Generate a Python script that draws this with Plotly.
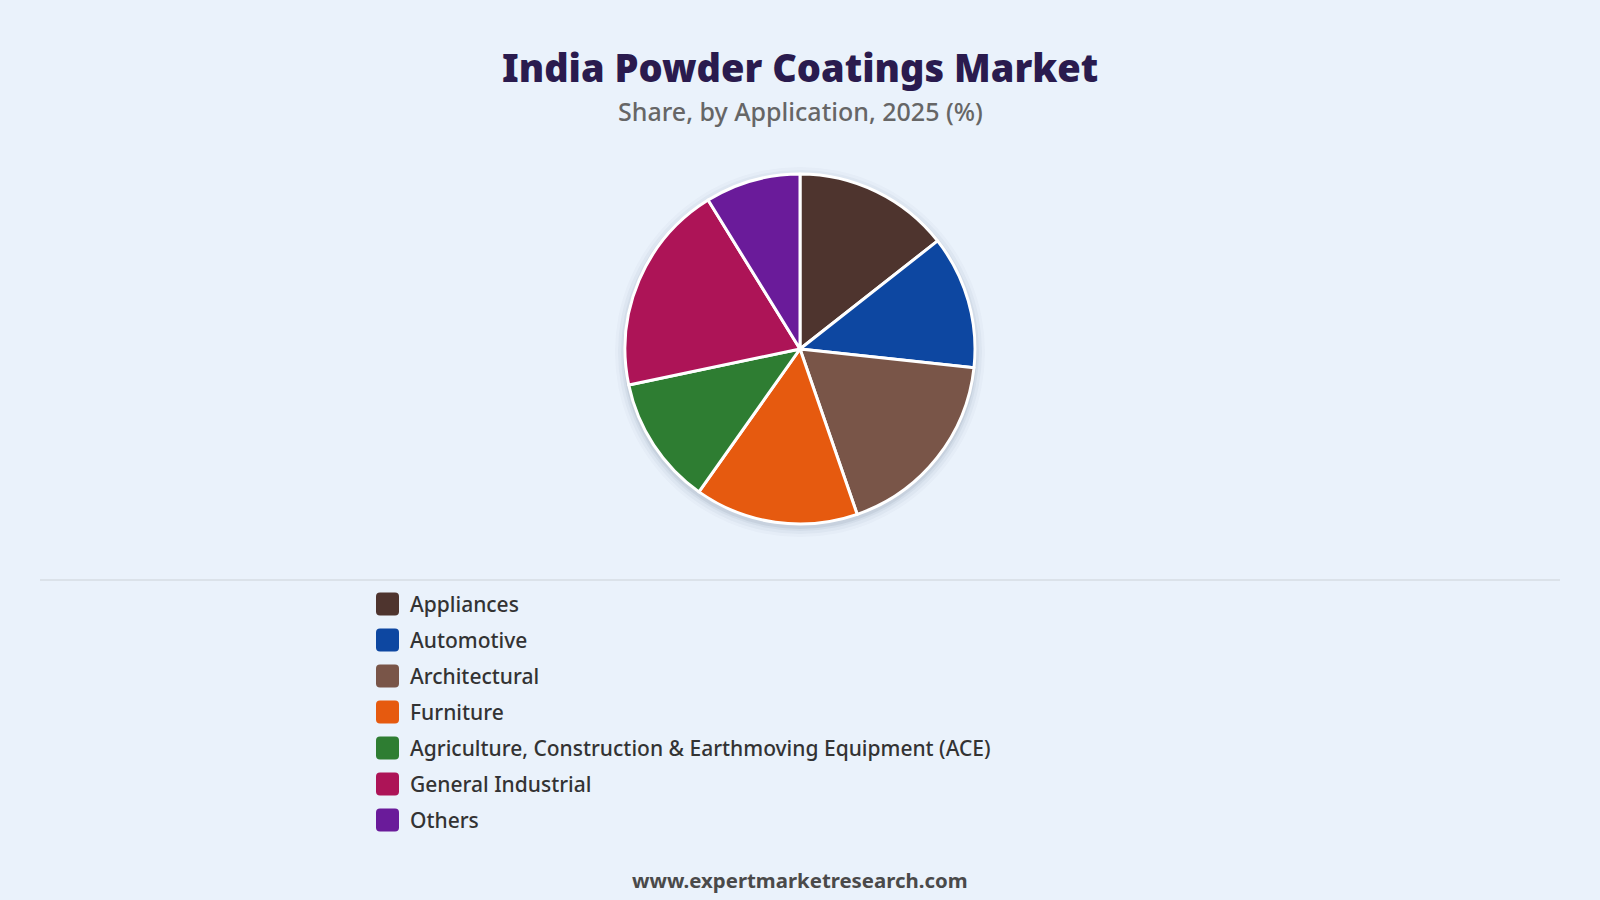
import plotly.graph_objects as go

categories = ["Appliances", "Automotive", "Architectural", "Furniture",
              "Agriculture, Construction & Earthmoving Equipment (ACE)",
              "General Industrial", "Others"]
shares = [14.4, 12.3, 18.0, 15.1, 11.9, 19.5, 8.8]
colors = ["#4E342E", "#0D47A1", "#795548", "#E65A0F", "#2E7D32", "#AD1457", "#6A1B9A"]

title = "India Powder Coatings Market"
subtitle = "Share, by Application, 2025 (%)"
footer = "www.expertmarketresearch.com"

W, H = 1600, 900
BG = "#EAF2FB"
FONT = "Noto Sans"

def px(x):
    return x / W

def py(y):
    return 1 - y / H

cx, cy, r = 800, 349, 175

fig = go.Figure()
fig.add_trace(go.Pie(
    labels=categories, values=shares, sort=False, direction="clockwise",
    rotation=0, textinfo="none", hoverinfo="label+percent",
    marker=dict(colors=colors, line=dict(color="white", width=3)),
    domain=dict(x=[px(cx - r), px(cx + r)], y=[py(cy + r), py(cy - r)]),
    showlegend=False,
))

shapes = []
# soft shadow behind pie
for dr, op in [(10, 0.025), (7, 0.035), (4, 0.05), (2, 0.07)]:
    rr = r + dr
    shapes.append(dict(type="circle", xref="paper", yref="paper",
                       x0=px(cx - rr), x1=px(cx + rr),
                       y0=py(cy + 3 + rr), y1=py(cy + 3 - rr),
                       fillcolor=f"rgba(40,60,90,{op})", line=dict(width=0),
                       layer="below"))

# separator line
shapes.append(dict(type="line", xref="paper", yref="paper",
                   x0=px(40), x1=px(1560), y0=py(580), y1=py(580),
                   line=dict(color="#D6DCE3", width=1.5)))

annotations = [
    dict(text=title, x=0.5, y=py(67), xref="paper", yref="paper",
         showarrow=False, xanchor="center", yanchor="middle",
         font=dict(family=FONT, size=38, color="#2A1B4E", weight=900)),
    dict(text=subtitle, x=0.5, y=py(111), xref="paper", yref="paper",
         showarrow=False, xanchor="center", yanchor="middle",
         font=dict(family=FONT, size=25, color="#666666", weight=500)),
    dict(text=f"<b>{footer}</b>", x=0.5, y=py(880), xref="paper", yref="paper",
         showarrow=False, xanchor="center", yanchor="middle",
         font=dict(family=FONT, size=20.4, color="#4A4A4A")),
]

# custom legend
lx0, ly0, step, sz, rad = 376, 604, 36, 23, 4
for i, (cat, col) in enumerate(zip(categories, colors)):
    yc = ly0 + i * step
    x0, x1 = lx0, lx0 + sz
    y0, y1 = yc - sz / 2, yc + sz / 2
    path = (f"M {px(x0 + rad)} {py(y0)} L {px(x1 - rad)} {py(y0)} "
            f"Q {px(x1)} {py(y0)} {px(x1)} {py(y0 + rad)} "
            f"L {px(x1)} {py(y1 - rad)} Q {px(x1)} {py(y1)} {px(x1 - rad)} {py(y1)} "
            f"L {px(x0 + rad)} {py(y1)} Q {px(x0)} {py(y1)} {px(x0)} {py(y1 - rad)} "
            f"L {px(x0)} {py(y0 + rad)} Q {px(x0)} {py(y0)} {px(x0 + rad)} {py(y0)} Z")
    shapes.append(dict(type="path", xref="paper", yref="paper", path=path,
                       fillcolor=col, line=dict(width=0)))
    annotations.append(dict(text=cat, x=px(408), y=py(yc), xref="paper", yref="paper",
                            showarrow=False, xanchor="left", yanchor="middle",
                            font=dict(family=FONT, size=21, color="#333333", weight=500)))

fig.update_layout(
    width=W, height=H, margin=dict(l=0, r=0, t=0, b=0),
    paper_bgcolor=BG, plot_bgcolor=BG,
    shapes=shapes, annotations=annotations, showlegend=False,
)

fig.write_html("out.html")
